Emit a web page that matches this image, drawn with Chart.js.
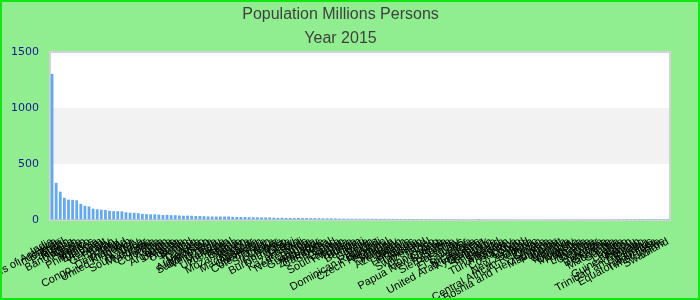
<!DOCTYPE html>
<html>
<head>
<meta charset="utf-8">
<script src="https://cdn.jsdelivr.net/npm/chart.js@4"></script>
<style>
  html, body { margin: 0; padding: 0; background: #90ee90; }
  #wrap { width: 700px; height: 300px; }
</style>
</head>
<body>
<div id="wrap"><canvas id="grafico" width="700" height="300"></canvas></div>
<script>
const titulo = ["Population Millions Persons", "Year 2015"];

const paises = [
  "India", "United States of America", "Indonesia", "Brazil", "Pakistan", "Nigeria", "Bangladesh",
  "Russia", "Japan", "Mexico", "Philippines", "Ethiopia", "Vietnam", "Egypt", "Germany", "Iran",
  "Turkey", "Congo, Dem. Rep.", "Thailand", "United Kingdom", "France", "Italy", "South Africa",
  "Myanmar", "Tanzania", "Korea", "Colombia", "Kenya", "Spain", "Argentina", "Ukraine", "Algeria",
  "Uganda", "Sudan", "Poland", "Iraq", "Canada", "Morocco", "Afghanistan", "Saudi Arabia",
  "Venezuela", "Peru", "Malaysia", "Uzbekistan", "Nepal", "Ghana", "Mozambique", "Yemen", "Angola",
  "Madagascar", "Australia", "Cameroon", "Cote d'Ivoire", "Taiwan", "Sri Lanka", "Niger", "Romania",
  "Burkina Faso", "Chile", "Malawi", "Kazakhstan", "Mali", "Netherlands", "Zambia", "Guatemala",
  "Ecuador", "Zimbabwe", "Cambodia", "Senegal", "Chad", "Guinea", "South Sudan", "Rwanda", "Tunisia",
  "Bolivia", "Belgium", "Haiti", "Greece", "Benin", "Dominican Republic", "Burundi", "Czech Republic",
  "Portugal", "Sweden", "Hungary", "Azerbaijan", "Jordan", "Belarus", "Honduras", "Austria",
  "Tajikistan", "Switzerland", "Israel", "Togo", "Hong Kong", "Papua New Guinea", "Bulgaria",
  "Serbia", "Sierra Leone", "Paraguay", "Laos", "El Salvador", "Libya", "Nicaragua",
  "United Arab Emirates", "Kyrgyzstan", "Denmark", "Lebanon", "Singapore", "Finland", "Slovakia",
  "Turkmenistan", "Norway", "Costa Rica", "Congo", "Ireland", "New Zealand", "Liberia",
  "Central African Republic", "Oman", "Croatia", "Bosnia and Herzegovina", "Mauritania", "Panama",
  "Kuwait", "Georgia", "Moldova", "Uruguay", "Mongolia", "Armenia", "Albania", "Lithuania", "Jamaica",
  "Qatar", "Namibia", "Botswana", "Slovenia", "Macedonia", "Gambia", "Latvia", "Lesotho", "Gabon",
  "Guinea-Bissau", "Bahrain", "Trinidad and Tobago", "Estonia", "Mauritius", "Equatorial Guinea",
  "Timor-Leste", "Cyprus", "Swaziland"
];

const populacao = [
  1305, 332, 253, 198, 182, 180, 176,
  144, 127, 121, 101, 96, 92, 89, 82, 79,
  78, 77, 69, 65, 64, 61, 55,
  52, 50, 51, 48, 44, 46, 43, 43, 40,
  38, 39, 38, 36, 36, 34, 32, 31,
  31, 31, 31, 31, 28, 27, 27, 27, 25,
  24, 24, 23, 23, 23, 21, 19, 20,
  18, 18, 17, 17.5, 17, 17, 16, 16,
  16, 15, 15, 15, 14, 12, 12, 11, 11,
  11, 11, 10.9, 10.8, 10.6, 10.5, 10.5, 10.5,
  10.4, 9.8, 9.8, 9.6, 9.5, 9.5, 8.6, 8.6,
  8.5, 8.3, 8.4, 7.3, 7.3, 7.9, 7.2,
  7.1, 7.1, 6.9, 6.8, 6.3, 6.3, 6.1,
  9.2, 6.0, 5.7, 5.9, 5.5, 5.5, 5.4,
  5.4, 5.2, 4.8, 4.6, 4.6, 4.6, 4.5,
  4.5, 4.2, 4.2, 3.8, 4.0, 4.0,
  3.9, 3.7, 3.6, 3.4, 3.0, 3.0, 2.9, 2.9, 2.7,
  2.4, 2.3, 2.1, 2.1, 2.1, 2.0, 2.0, 1.9, 1.8,
  1.8, 1.4, 1.3, 1.3, 1.3, 1.2,
  1.2, 1.2, 1.1
];

const ticksY = [0, 500, 1000, 1500];

const fundoPlugin = {
  id: "fundo",
  beforeDraw(chart) {
    const ctx = chart.ctx;
    const area = chart.chartArea;
    const y = chart.scales.y;
    ctx.save();
    ctx.fillStyle = "#90ee90";
    ctx.fillRect(0, 0, chart.width, chart.height);
    ctx.fillStyle = "#ffffff";
    ctx.fillRect(area.left, area.top, area.right - area.left, area.bottom - area.top);
    // faixa intercalada entre 500 e 1000
    ctx.fillStyle = "#f2f2f2";
    const y1 = y.getPixelForValue(ticksY[2]);
    const y0 = y.getPixelForValue(ticksY[1]);
    ctx.fillRect(area.left, y1, area.right - area.left, y0 - y1);
    ctx.strokeStyle = "#d2d2d2";
    ctx.lineWidth = 2;
    ctx.strokeRect(area.left, area.top, area.right - area.left, area.bottom - area.top);
    ctx.restore();
  },
  afterDraw(chart) {
    const ctx = chart.ctx;
    ctx.save();
    ctx.strokeStyle = "#11e611";
    ctx.lineWidth = 2;
    ctx.strokeRect(1, 1, chart.width - 2, chart.height - 2);
    ctx.restore();
  }
};

new Chart(document.getElementById("grafico"), {
  type: "bar",
  data: {
    labels: paises,
    datasets: [
      {
        label: "Population",
        data: populacao,
        backgroundColor: "#62a8f2",
        borderWidth: 0,
        categoryPercentage: 0.75,
        barPercentage: 0.9,
      },
    ],
  },
  options: {
    responsive: false,
    animation: false,
    layout: { padding: { left: 11, right: 30, top: 0, bottom: 0 } },
    plugins: {
      legend: { display: false },
      tooltip: { enabled: false },
      title: {
        display: true,
        text: titulo,
        color: "#404040",
        font: { family: "Liberation Sans, Arial, sans-serif", size: 16, weight: "normal", lineHeight: 1.5 },
        padding: { top: 3, bottom: 1 },
      },
    },
    scales: {
      x: {
        afterFit: (axis) => { axis.height = 80; },
        grid: { color: "transparent", drawTicks: true, tickLength: 8 },
        border: { display: false },
        ticks: {
          autoSkip: false,
          maxRotation: 29,
          minRotation: 29,
          padding: 7,
          color: "#000000",
          font: { family: "Liberation Sans, Arial, sans-serif", size: 11 },
        },
      },
      y: {
        min: 0,
        max: 1500,
        afterBuildTicks: (axis) => { axis.ticks = ticksY.map(v => ({ value: v })); },
        afterFit: (axis) => { axis.width = 39; },
        grid: { color: "transparent", drawTicks: true, tickLength: 8 },
        border: { display: false },
        ticks: {
          padding: 3,
          color: "#16168e",
          font: { family: "DejaVu Sans, sans-serif", size: 11 },
          callback: (v) => String(v),
        },
      },
    },
  },
  plugins: [fundoPlugin],
});
</script>
</body>
</html>
